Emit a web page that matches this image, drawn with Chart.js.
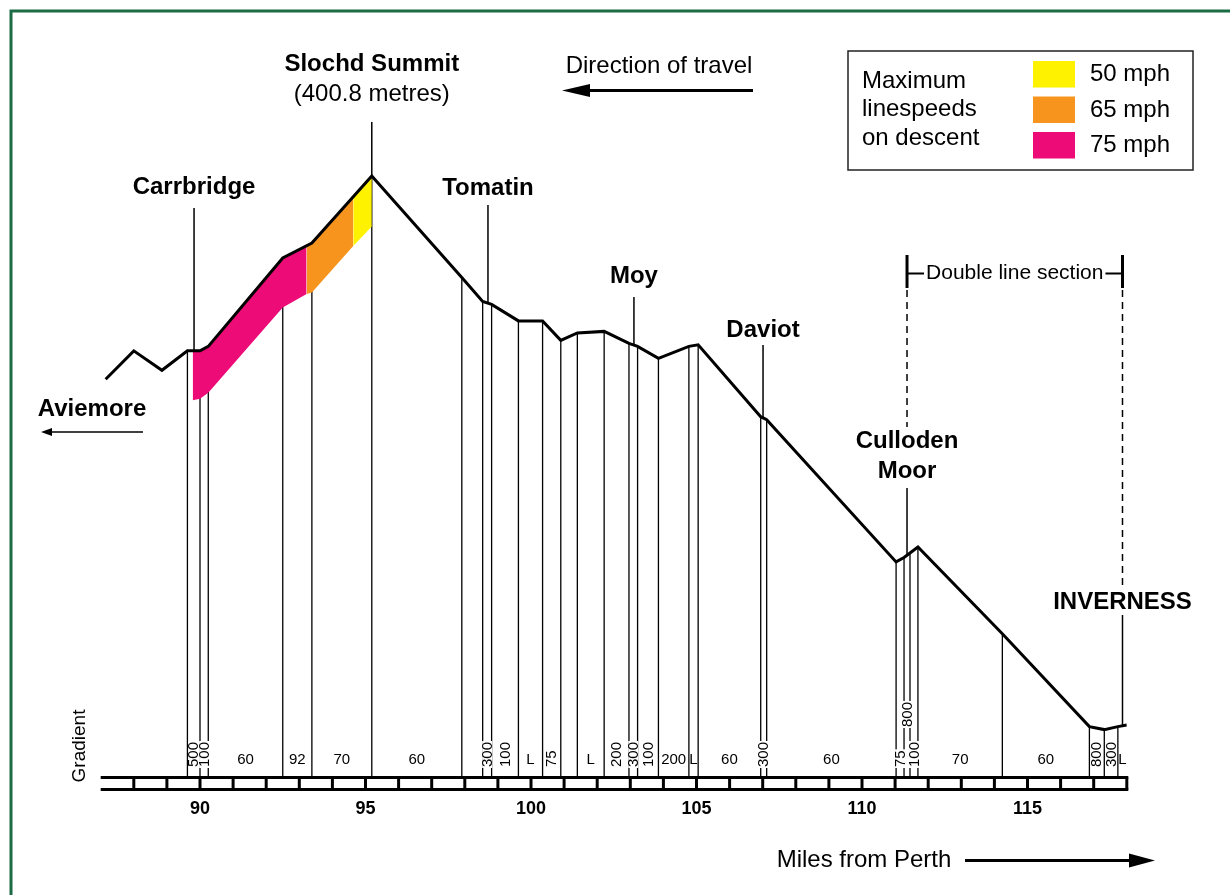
<!DOCTYPE html>
<html lang="en">
<head>
<meta charset="UTF-8">
<title>Slochd Summit gradient profile</title>
<script src="https://cdn.jsdelivr.net/npm/chart.js@4.4.1/dist/chart.umd.min.js"></script>
<style>
  html, body { margin: 0; padding: 0; background: #fff; }
  canvas { display: block; }
</style>
</head>
<body>

<canvas id="chart" width="1230" height="895"></canvas>

<script>
// miles from Perth / height (metres) at every change of gradient
const profileMiles = [87.15, 88.0, 88.85, 89.62, 90.0, 90.25, 92.5, 93.38, 95.19, 97.91, 98.54, 98.81, 99.62, 100.35, 100.9, 101.4, 102.21, 102.96, 103.22, 103.85, 104.77, 105.05, 106.94, 107.12, 111.03, 111.27, 111.45, 111.69, 114.24, 116.87, 117.32, 117.73, 118.0];
const profileHeights = [265, 284, 271, 284, 284, 287, 346, 356, 400.8, 333, 317, 315, 304, 304, 291, 296, 297, 289, 287, 279, 287, 288, 240, 238, 143, 146, 149, 153, 95, 33, 31, 33, 34];

// gradient (1 in ...) of each section, starting at the 4th profile point
const firstGradientPoint = 3;
const gradientLabels = ['500', '100', '60', '92', '70', '60', '', '300', '100', 'L', '75', '', 'L', '200', '300', '100', '200', 'L', '60', '300', '60', '75', '800', '100', '70', '60', '800', '300', 'L'];

const stationNames = ['Carrbridge', 'Slochd Summit', 'Tomatin', 'Moy', 'Daviot', 'Culloden\nMoor', 'INVERNESS'];
const stationMiles = [89.82, 95.19, 98.70, 103.11, 107.01, 111.36, 117.87];
const summitHeight = 400.8;

// max linespeed on descent, shaded under the line
const speedLabels = ['50 mph', '65 mph', '75 mph'];
const band50Miles = [94.63, 95.19];
const band50Top = [388, 400.8];
const band50Base = [354, 367];
const band65Miles = [93.22, 93.38, 94.63];
const band65Top = [355, 356, 388];
const band65Base = [322, 323, 354];
const band75Miles = [89.78, 90.0, 90.25, 92.5, 93.22];
const band75Top = [284, 284, 287, 346, 355];
const band75Base = [251, 252, 256, 313, 322];

const trackStart = 87;
const trackEnd = 118;
const axisTicks = [90, 95, 100, 105, 110, 115];
const doubleLineFrom = 111.36;
const doubleLineTo = 117.87;

const YELLOW = '#fff200';
const ORANGE = '#f7941d';
const MAGENTA = '#ec0b77';
const FONT = '"Liberation Sans", Arial, sans-serif';

const pts = (xs, ys) => xs.map((x, i) => ({x: x, y: ys[i]}));
function band(xs, top, base, colour) {
    return [
        {data: pts(xs, top), fill: '+1', backgroundColor: colour, borderColor: 'rgba(0,0,0,0)', borderWidth: 0, pointRadius: 0},
        {data: pts(xs, base), fill: false, borderColor: 'rgba(0,0,0,0)', borderWidth: 0, pointRadius: 0}
    ];
}

function heightAt(m) {
    for (let i = 1; i < profileMiles.length; i++) {
        if (m <= profileMiles[i]) {
            const t = (m - profileMiles[i - 1]) / (profileMiles[i] - profileMiles[i - 1]);
            return profileHeights[i - 1] + t * (profileHeights[i] - profileHeights[i - 1]);
        }
    }
    return profileHeights[profileHeights.length - 1];
}

function text(ctx, str, x, y, size, bold, align) {
    ctx.font = (bold ? 'bold ' : '') + size + 'px ' + FONT;
    ctx.textAlign = align || 'center';
    ctx.textBaseline = 'middle';
    ctx.fillStyle = '#000';
    ctx.fillText(str, x, y);
}

function arrow(ctx, x0, tip, y, width, headLen, headHalf) {
    const dir = Math.sign(tip - x0);
    ctx.strokeStyle = '#000';
    ctx.fillStyle = '#000';
    ctx.lineWidth = width;
    ctx.beginPath();
    ctx.moveTo(x0, y);
    ctx.lineTo(tip - dir * headLen * 0.8, y);
    ctx.stroke();
    ctx.beginPath();
    ctx.moveTo(tip, y);
    ctx.lineTo(tip - dir * headLen, y - headHalf);
    ctx.lineTo(tip - dir * headLen, y + headHalf);
    ctx.closePath();
    ctx.fill();
}

// label y / top of marker line for each station (pixels)
const stationLayout = [
    {y: 187, top: 208},
    {y: 64, top: 122},
    {y: 188, top: 205},
    {y: 276, top: 297},
    {y: 330, top: 345},
    {y: 441, top: 488},
    {y: 602, top: 615}
];

const profilePlugin = {
    id: 'profile',
    beforeDraw(chart) {
        const ctx = chart.ctx;
        ctx.save();
        ctx.fillStyle = '#fff';
        ctx.fillRect(0, 0, chart.width, chart.height);
        ctx.strokeStyle = '#1b6b45';
        ctx.lineWidth = 3;
        ctx.strokeRect(11, 11, 1400, 1000);
        ctx.restore();
    },
    beforeDatasetsDraw(chart) {
        const ctx = chart.ctx;
        const xs = chart.scales.x, ys = chart.scales.y;
        const railTop = 777;
        ctx.save();
        ctx.strokeStyle = '#000';
        // gradient change posts
        ctx.lineWidth = 1.3;
        for (let i = firstGradientPoint; i < profileMiles.length - 1; i++) {
            const x = xs.getPixelForValue(profileMiles[i]);
            ctx.beginPath();
            ctx.moveTo(x, ys.getPixelForValue(profileHeights[i]));
            ctx.lineTo(x, railTop);
            ctx.stroke();
        }
        // station markers
        ctx.lineWidth = 1.5;
        stationMiles.forEach((m, i) => {
            const x = xs.getPixelForValue(m);
            ctx.beginPath();
            ctx.moveTo(x, stationLayout[i].top);
            ctx.lineTo(x, ys.getPixelForValue(heightAt(m)));
            ctx.stroke();
        });
        ctx.restore();
    },
    afterDatasetsDraw(chart) {
        const ctx = chart.ctx;
        const xs = chart.scales.x;
        ctx.save();

        // station names
        stationNames.forEach((name, i) => {
            const x = xs.getPixelForValue(stationMiles[i]);
            name.split('\n').forEach((line, k) => text(ctx, line, x, stationLayout[i].y + k * 30, 24, true));
        });
        text(ctx, '(' + summitHeight + ' metres)', xs.getPixelForValue(stationMiles[1]), 94, 24, false);
        text(ctx, 'Aviemore', 92, 409, 24, true);
        arrow(ctx, 143, 41, 432, 1.5, 11, 4);

        text(ctx, 'Direction of travel', 659, 66, 24, false);
        arrow(ctx, 753, 562, 90.5, 3, 28, 6.5);

        // legend
        ctx.strokeStyle = '#222';
        ctx.lineWidth = 1.5;
        ctx.strokeRect(848, 51, 345, 119);
        ['Maximum', 'linespeeds', 'on descent'].forEach((t, k) => text(ctx, t, 862, 81 + k * 28.5, 24, false, 'left'));
        [YELLOW, ORANGE, MAGENTA].forEach((c, k) => {
            const y = 61 + k * 35.5;
            ctx.fillStyle = c;
            ctx.fillRect(1033, y, 42, 26.5);
            text(ctx, speedLabels[k], 1090, y + 13.5, 24, false, 'left');
        });

        // double line section bracket
        const d0 = xs.getPixelForValue(doubleLineFrom), d1 = xs.getPixelForValue(doubleLineTo);
        ctx.strokeStyle = '#000';
        ctx.lineWidth = 2;
        ctx.beginPath();
        ctx.moveTo(d0, 273.5);
        ctx.lineTo(d1, 273.5);
        ctx.stroke();
        ctx.lineWidth = 3;
        [d0, d1].forEach(x => {
            ctx.beginPath();
            ctx.moveTo(x, 255);
            ctx.lineTo(x, 288);
            ctx.stroke();
        });
        ctx.font = '21px ' + FONT;
        const dw = ctx.measureText('Double line section').width;
        ctx.fillStyle = '#fff';
        ctx.fillRect((d0 + d1) / 2 - dw / 2 - 2, 262, dw + 4, 24);
        text(ctx, 'Double line section', (d0 + d1) / 2, 273, 21, false);
        ctx.lineWidth = 1.5;
        ctx.setLineDash([7, 5]);
        [[d0, 427], [d1, 588]].forEach(([x, y1]) => {
            ctx.beginPath();
            ctx.moveTo(x, 290);
            ctx.lineTo(x, y1);
            ctx.stroke();
        });
        ctx.setLineDash([]);

        // gradient figures
        ctx.font = '15px ' + FONT;
        let lastRot = -1e9;
        gradientLabels.forEach((lab, k) => {
            if (!lab) return;
            const i = firstGradientPoint + k;
            const x0 = xs.getPixelForValue(profileMiles[i]);
            const x1 = xs.getPixelForValue(profileMiles[i + 1]);
            const mid = (x0 + x1) / 2;
            ctx.font = '15px ' + FONT;
            const tw = ctx.measureText(lab).width;
            if (lab.length === 1 || tw + 4 <= x1 - x0) {
                text(ctx, lab, mid, 760, 15, false);
                return;
            }
            let base = 767;
            if (mid - lastRot < 9) base = 727; else lastRot = mid;
            ctx.save();
            ctx.translate(mid, base);
            ctx.rotate(-Math.PI / 2);
            ctx.fillStyle = '#fff';
            ctx.fillRect(-1, -5, tw + 2, 10);
            text(ctx, lab, 0, 0.5, 15, false, 'left');
            ctx.restore();
        });

        ctx.save();
        ctx.translate(80, 746);
        ctx.rotate(-Math.PI / 2);
        text(ctx, 'Gradient', 0, 0, 19, false);
        ctx.restore();

        // track
        const t0 = xs.getPixelForValue(trackStart), t1 = xs.getPixelForValue(trackEnd);
        ctx.strokeStyle = '#000';
        ctx.lineWidth = 3;
        [777.5, 789.5].forEach(y => {
            ctx.beginPath();
            ctx.moveTo(t0, y);
            ctx.lineTo(t1 + 1.5, y);
            ctx.stroke();
        });
        for (let m = trackStart + 1; m <= trackEnd; m++) {
            const x = xs.getPixelForValue(m);
            ctx.beginPath();
            ctx.moveTo(x, 777.5);
            ctx.lineTo(x, 789.5);
            ctx.stroke();
        }
        axisTicks.forEach(v => text(ctx, String(v), xs.getPixelForValue(v), 809, 18, true));

        text(ctx, 'Miles from Perth', 864, 860, 24, false);
        arrow(ctx, 965, 1155, 860.5, 3, 26, 7);

        ctx.restore();
    }
};

new Chart(document.getElementById('chart').getContext('2d'), {
    type: 'line',
    data: {
        datasets: [
            {data: pts(profileMiles, profileHeights), borderColor: '#000', borderWidth: 3, pointRadius: 0, fill: false, borderJoinStyle: 'miter'},
            ...band(band75Miles, band75Top, band75Base, MAGENTA),
            ...band(band65Miles, band65Top, band65Base, ORANGE),
            ...band(band50Miles, band50Top, band50Base, YELLOW)
        ]
    },
    options: {
        responsive: false,
        animation: false,
        devicePixelRatio: 1,
        events: [],
        layout: {padding: {left: 100.7, right: 103.2, top: 20, bottom: 119}},
        scales: {
            x: {type: 'linear', min: trackStart, max: trackEnd, display: false},
            y: {type: 'linear', min: 0, max: 505, display: false}
        },
        plugins: {legend: {display: false}, tooltip: {enabled: false}}
    },
    plugins: [profilePlugin]
});
</script>

</body>
</html>
